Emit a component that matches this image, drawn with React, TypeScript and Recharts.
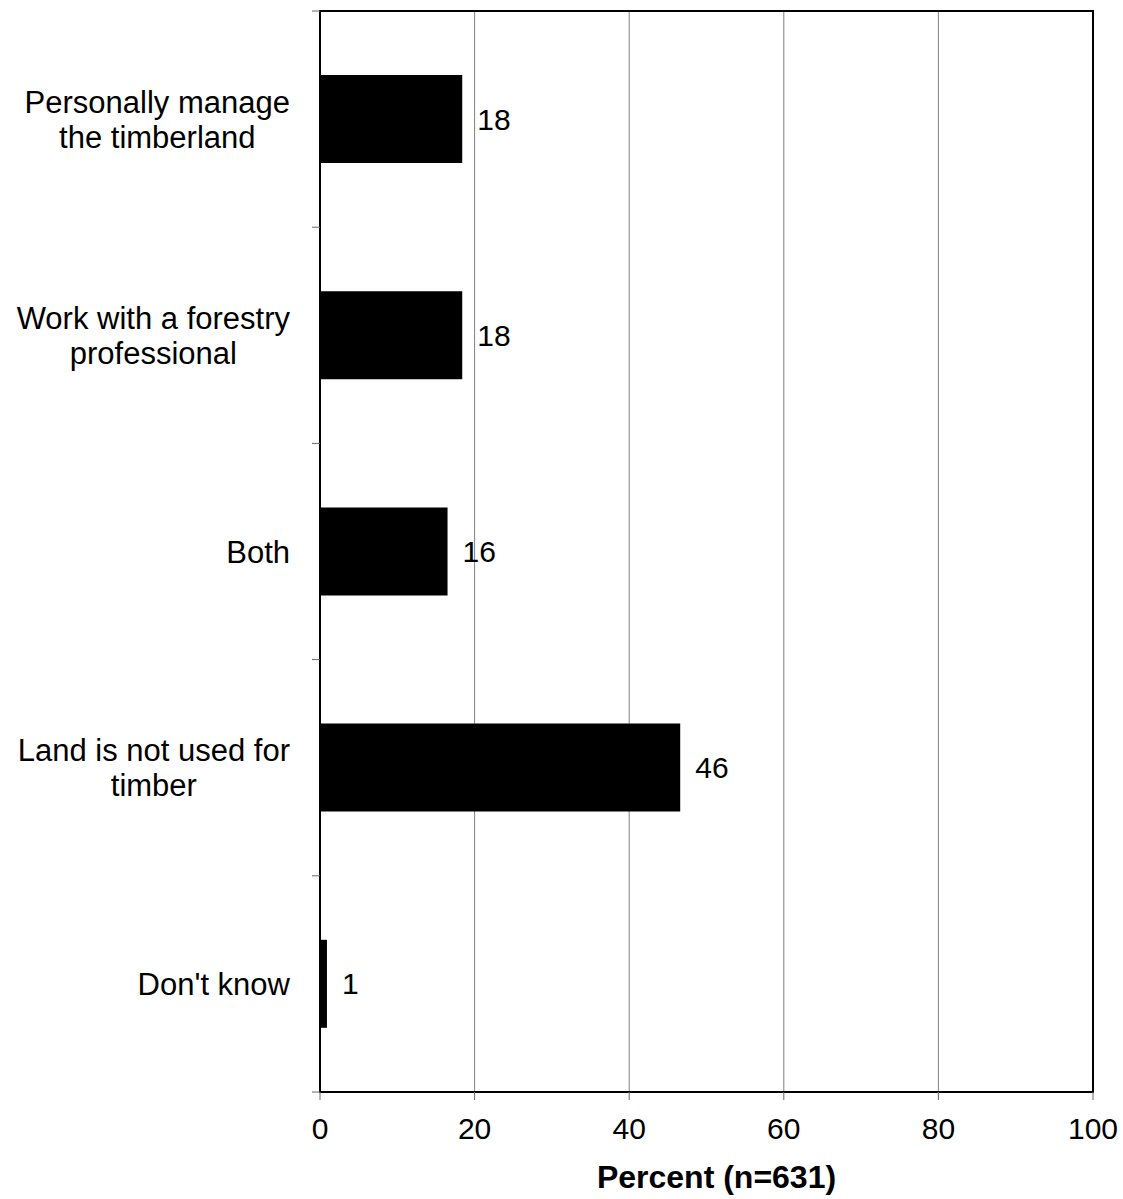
import React from "react";
import {
  BarChart,
  Bar,
  XAxis,
  YAxis,
  CartesianGrid,
  LabelList,
  Label,
  ReferenceArea,
} from "recharts";

const categories = [
  "Personally manage\nthe timberland",
  "Work with a forestry\nprofessional",
  "Both",
  "Land is not used for\ntimber",
  "Don't know",
];
const percents = [18.4, 18.4, 16.5, 46.6, 0.9];
const valueLabels = ["18", "18", "16", "46", "1"];
const xTicks = [0, 20, 40, 60, 80, 100];
const axisTitle = "Percent (n=631)";

const data = categories.map((c, i) => ({
  category: c,
  value: percents[i],
  label: valueLabels[i],
}));

const FONT = '"Liberation Sans", Arial, Helvetica, sans-serif';
const LABEL_SIZE = 31;

let ctx: CanvasRenderingContext2D | null = null;
function measure(text: string, size: number): number {
  if (!ctx) {
    const c = document.createElement("canvas");
    ctx = c.getContext("2d");
  }
  if (!ctx) return text.length * size * 0.5;
  ctx.font = `${size}px "Liberation Sans"`;
  return ctx.measureText(text).width;
}

function CategoryTick(props: any) {
  const { x, y, payload, index, visibleTicksCount } = props;
  const half = payload && payload.offset ? payload.offset : 0;
  const lines: string[] = String(payload.value).split("\n");
  const maxW = Math.max(...lines.map((l) => measure(l, LABEL_SIZE)));
  const right = x - 30;
  const cx = right - maxW / 2;
  const lh = 35;
  const startY = y - ((lines.length - 1) * lh) / 2;
  const isLast = index === (visibleTicksCount ?? 5) - 1;
  return (
    <g>
      <line x1={x - 8} x2={x} y1={y - half} y2={y - half} stroke="#666" strokeWidth={1} />
      {isLast && (
        <line x1={x - 8} x2={x} y1={y + half} y2={y + half} stroke="#666" strokeWidth={1} />
      )}
      {lines.map((l, i) => (
        <text
          key={i}
          x={cx}
          y={startY + i * lh}
          dy="0.36em"
          textAnchor="middle"
          fontSize={LABEL_SIZE}
          fontFamily={FONT}
          fill="#000"
        >
          {l}
        </text>
      ))}
    </g>
  );
}

export default function App() {
  return (
    <div style={{ position: "absolute", left: 0, top: 0, background: "#fff" }}>
      <BarChart
        width={1123}
        height={1199}
        data={data}
        layout="vertical"
        margin={{ top: 11, right: 30, bottom: 0, left: 0 }}
        barCategoryGap="29.6%"
      >
        <CartesianGrid horizontal={false} stroke="#808080" strokeWidth={1} />
        <XAxis
          type="number"
          domain={[0, 100]}
          ticks={xTicks}
          interval={0}
          height={107}
          tickSize={8}
          tickMargin={18}
          tickLine={{ stroke: "#666", strokeWidth: 1 }}
          axisLine={{ stroke: "#000", strokeWidth: 2 }}
          tick={{ fill: "#000", fontSize: 30, fontFamily: FONT }}
        >
          <Label
            value={axisTitle}
            position="insideBottom"
            offset={11}
            dx={10}
            fill="#000"
            fontSize={32}
            fontWeight="bold"
            fontFamily={FONT}
          />
        </XAxis>
        <YAxis
          type="category"
          dataKey="category"
          width={320}
          tickSize={0}
          tickMargin={0}
          tickLine={false}
          interval={0}
          axisLine={{ stroke: "#000", strokeWidth: 2 }}
          tick={<CategoryTick />}
        />
        <ReferenceArea
          x1={0}
          x2={100}
          fill="none"
          fillOpacity={0}
          stroke="#000"
          strokeWidth={2}
          ifOverflow="extendDomain"
        />
        <Bar dataKey="value" fill="#000" isAnimationActive={false}>
          <LabelList
            dataKey="label"
            position="right"
            offset={15}
            fill="#000"
            fontSize={30}
            fontFamily={FONT}
          />
        </Bar>
      </BarChart>
    </div>
  );
}
